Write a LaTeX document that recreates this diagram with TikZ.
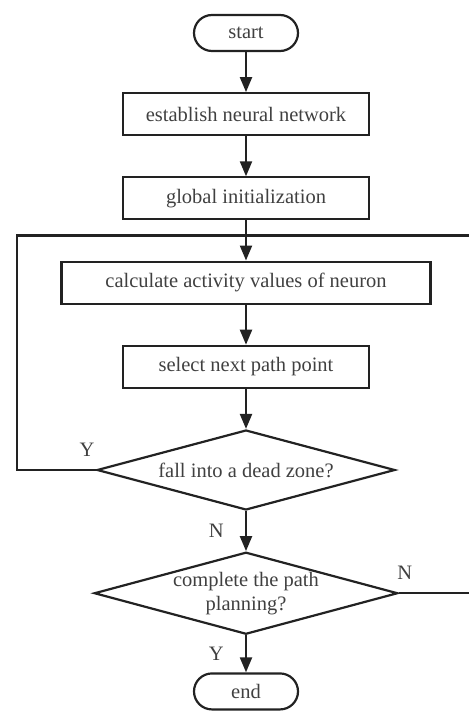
\documentclass[tikz,border=0pt]{standalone}
\usepackage{fontspec}
\setmainfont{Liberation Serif}
\usetikzlibrary{arrows.meta,positioning,shapes.geometric,calc}
\definecolor{linegray}{HTML}{222222}
\definecolor{textgray}{HTML}{404040}

\begin{document}
\begin{tikzpicture}[
  x=1pt, y=1pt,
  node distance=40pt,
  every node/.style={font=\fontsize{20.5}{24}\selectfont, text=textgray},
  box/.style={draw=linegray, line width=2.2pt, align=center, minimum height=42pt, minimum width=246pt, inner sep=0pt},
  term/.style={draw=linegray, line width=2.2pt, rounded corners=18pt, minimum height=36pt, minimum width=104pt},
  decide/.style={draw=linegray, line width=2.2pt, diamond, aspect=3.7, inner sep=0pt, align=center, minimum width=298pt, minimum height=80pt},
  arr/.style={draw=linegray, line width=2.2pt, -{Triangle[length=15pt,width=12pt]}},
  link/.style={draw=linegray, line width=2.2pt}
]
\useasboundingbox (0,0) rectangle (468,-711);
\node[term] (start) at (246,-33) {start};
\node[box, below=of start] (build) {establish neural network};
\node[box, below=of build] (init) {global initialization};
\node[box, below=of init, minimum width=369pt] (calc) {calculate activity values of neuron};
\node[box, below=of calc] (select) {select next path point};
\node[decide, below=of select] (dead) {fall into a dead zone?};
\node[decide, below=of dead] (done) {complete the path\\planning?};
\node[term, below=37pt of done] (end) {end};

% loop back points
\coordinate (join) at ($(init.south)!0.375!(calc.north)$);
\coordinate (leftx) at (17,0);
\coordinate (rightx) at (476,0);

\draw[arr] (start) -- (build);
\draw[arr] (build) -- (init);
\draw[arr] (init) -- (calc);
\draw[arr] (calc) -- (select);
\draw[arr] (select) -- (dead);
\draw[arr] (dead) -- node[left=18pt] {N} (done);
\draw[arr] (done) -- node[left=18pt] {Y} (end);

\draw[link] (dead.west) -| node[pos=0.056, above=9pt] {Y} (join -| leftx) -- (join);
\draw[link] (done.east) -| node[pos=0.0375, above=9pt] {N} (join -| rightx) -- (join);
\end{tikzpicture}
\end{document}
